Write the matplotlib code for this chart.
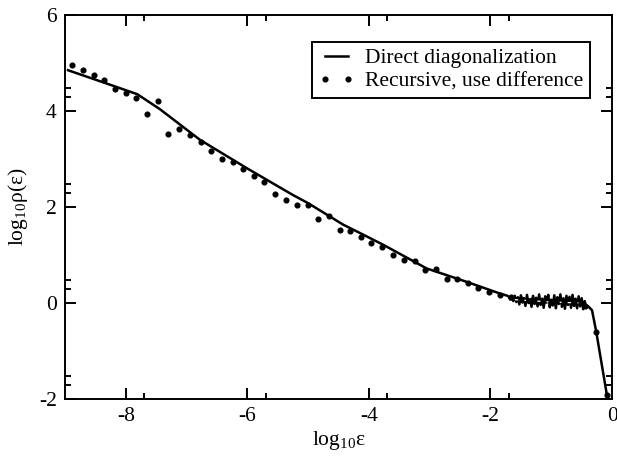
import numpy as np
import matplotlib
matplotlib.use("Agg")
import matplotlib.pyplot as plt

plt.rcParams['font.family'] = ['Liberation Serif', 'DejaVu Serif']
plt.rcParams['mathtext.fontset'] = 'custom'
plt.rcParams['mathtext.rm'] = 'Liberation Serif'

# direct diagonalization: smooth part, noisy plateau, then the drop near 0
direct_x = [-8.95, -8.40, -7.81, -7.44, -6.78, -6.01, -5.25, -5.00, -4.42,
            -4.15, -3.76, -3.05, -2.39, -1.85, -1.72]
direct_y = [4.85, 4.61, 4.35, 4.04, 3.40, 2.81, 2.25, 2.08, 1.63,
            1.46, 1.21, 0.72, 0.44, 0.20, 0.15]
plateau_x = [-1.700, -1.675, -1.650, -1.625, -1.600, -1.575, -1.550, -1.525, -1.500, -1.475,
             -1.450, -1.425, -1.400, -1.375, -1.350, -1.325, -1.300, -1.275, -1.250, -1.225,
             -1.200, -1.175, -1.150, -1.125, -1.100, -1.075, -1.050, -1.025, -1.000, -0.975,
             -0.950, -0.925, -0.900, -0.875, -0.850, -0.825, -0.800, -0.775, -0.750, -0.725,
             -0.700, -0.675, -0.650, -0.625, -0.600, -0.575, -0.550, -0.525, -0.500, -0.475,
             -0.450, -0.425, -0.400]
plateau_y = [0.13, 0.07, 0.11, 0.04, 0.15, 0.02, 0.12, -0.03, 0.16, 0.01,
             0.10, -0.06, 0.17, 0.00, 0.08, -0.08, 0.15, -0.02, 0.11, -0.07,
             0.18, -0.04, 0.09, -0.10, 0.14, 0.01, 0.17, -0.09, 0.07, -0.05,
             0.16, -0.11, 0.12, -0.02, 0.18, -0.08, 0.10, -0.12, 0.15, -0.04,
             0.13, -0.10, 0.17, -0.06, 0.09, -0.11, 0.14, -0.07, 0.10, -0.13,
             0.04, -0.10, -0.06]
tail_x = [-0.33, -0.26, -0.09]
tail_y = [-0.15, -0.60, -1.88]

# recursive method, difference scheme
rec_x = [-8.88, -8.70, -8.53, -8.35, -8.18, -8.00, -7.83, -7.65, -7.47, -7.30,
         -7.12, -6.95, -6.77, -6.59, -6.42, -6.24, -6.07, -5.89, -5.72, -5.54,
         -5.36, -5.19, -5.01, -4.84, -4.66, -4.48, -4.31, -4.13, -3.96, -3.78,
         -3.60, -3.43, -3.25, -3.08, -2.90, -2.72, -2.55, -2.37, -2.20, -2.02,
         -1.85, -1.67, -1.49, -1.32, -1.14, -0.97, -0.79, -0.62, -0.44, -0.26,
         -0.09]
rec_y = [4.96, 4.85, 4.76, 4.65, 4.45, 4.37, 4.27, 3.93, 4.21, 3.52,
         3.63, 3.49, 3.36, 3.17, 3.01, 2.94, 2.80, 2.65, 2.53, 2.27,
         2.14, 2.04, 2.05, 1.75, 1.82, 1.52, 1.49, 1.38, 1.24, 1.17,
         1.00, 0.89, 0.88, 0.69, 0.71, 0.50, 0.49, 0.41, 0.31, 0.22,
         0.17, 0.12, 0.09, 0.06, 0.04, 0.03, 0.02, 0.01, -0.06, -0.61,
         -1.92]

# thin light dashes running through the plateau band
band_x = [-1.60, -1.00, -0.50]
band_y = [0.07, 0.02, 0.00]

line_x = direct_x + plateau_x + tail_x
line_y = direct_y + plateau_y + tail_y

fig = plt.figure(figsize=(6.17, 4.59), dpi=100)
ax = fig.add_axes([0.1053, 0.1307, 0.8867, 0.8366])

ax.plot(line_x, line_y, color='black', lw=1.8, label='Direct diagonalization')
ax.plot(band_x, band_y, color='white', lw=0.9, dashes=(3, 3))
ax.plot(rec_x, rec_y, linestyle='none', marker='o', ms=3.4, color='black',
        label='Recursive, use difference')

ax.set_xlim(-9, 0)
ax.set_ylim(-2, 6)
ax.set_xticks([-8, -6, -4, -2, 0])
ax.set_yticks([-2, 0, 2, 4, 6])
ax.set_xticklabels(['-8', '-6', '-4', '-2', '0'])
ax.set_yticklabels(['-2', '0', '2', '4', '6'])
# minor ticks sit at log10(2) and log10(3) above each decade
ax.set_xticks([m + np.log10(2) for m in [-8, -6, -4, -2]], minor=True)
ax.set_yticks([m + d for m in [-2, 0, 2, 4] for d in (np.log10(2), np.log10(3))], minor=True)
ax.tick_params(which='both', direction='in', top=True, right=True, width=1.4,
               labelsize=15.5, pad=6, colors='black')
ax.tick_params(which='major', length=8)
ax.tick_params(which='minor', length=4)
for s in ax.spines.values():
    s.set_linewidth(1.4)

ax.set_xlabel(r'log$_{\mathregular{10}}$ε', fontsize=15.5, labelpad=2)
ax.set_ylabel(r'log$_{\mathregular{10}}$ρ(ε)', fontsize=15.5, labelpad=6)

leg = ax.legend(loc='upper right', bbox_to_anchor=(0.960, 0.930), borderaxespad=0,
                fancybox=False, framealpha=1, edgecolor='black', fontsize=15.5,
                numpoints=2, handlelength=1.7, handletextpad=0.5,
                borderpad=0.3, labelspacing=0.12)
leg.get_frame().set_linewidth(1.4)

plt.savefig('out.png', dpi=100)
